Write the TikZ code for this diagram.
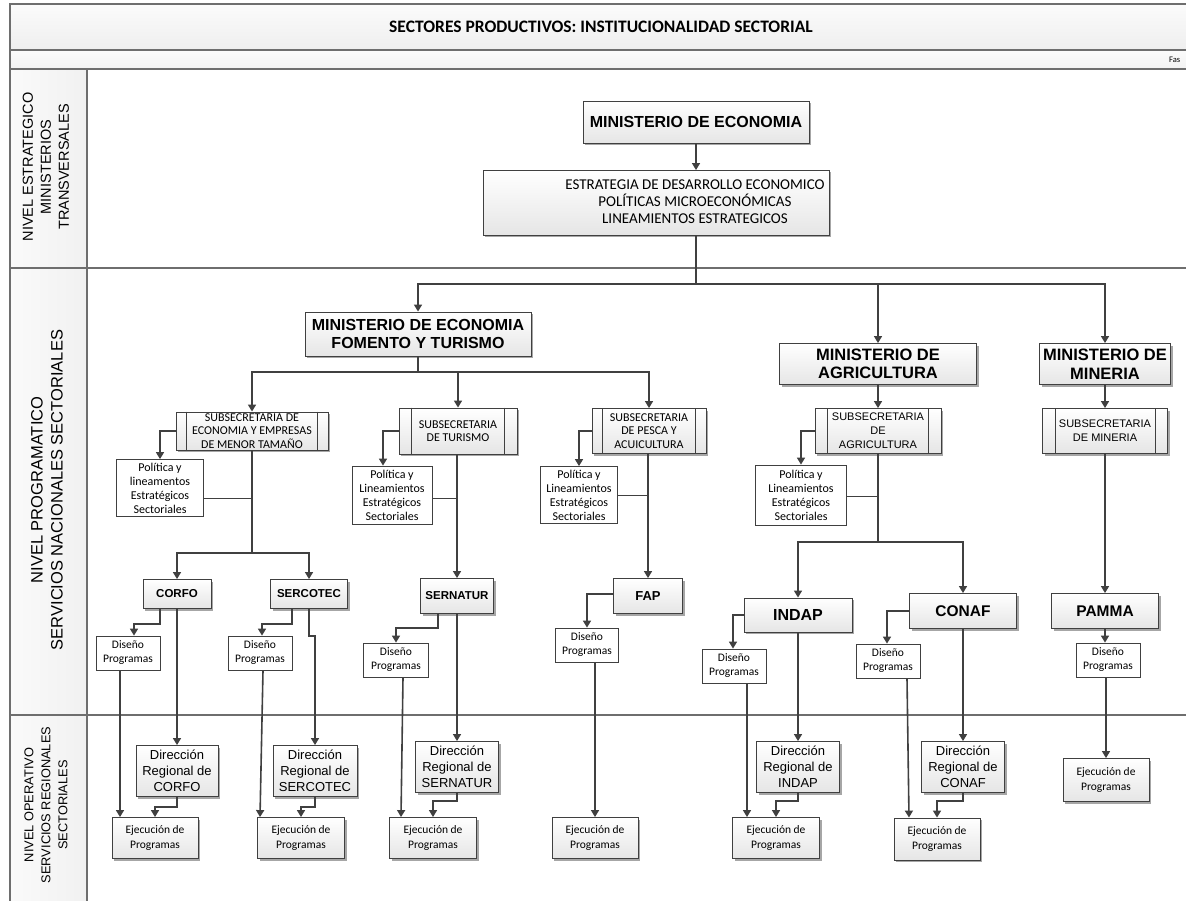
\documentclass[tikz,border=0pt]{standalone}
\usepackage{fontspec}
\setmainfont{Carlito}
\newfontfamily\arial{Liberation Sans}
\usetikzlibrary{arrows.meta,shadows,calc}
\definecolor{lc}{HTML}{404040}
\definecolor{frm}{HTML}{6E6E6E}
\newcommand\innerlines[2]{%
  \draw[lc, line width=0.8pt] ([xshift=#2]#1.north west) -- ([xshift=#2]#1.south west);
  \draw[lc, line width=0.8pt] ([xshift=-#2]#1.north east) -- ([xshift=-#2]#1.south east);}
\begin{document}
\begin{tikzpicture}[x=1pt,y=-1pt,
  box/.style={draw=lc, line width=0.9pt, top color=white, bottom color=gray!20,
    drop shadow={shadow xshift=2pt, shadow yshift=-2pt, fill=black, opacity=0.35},
    inner sep=0pt, align=center},
  wbox/.style={draw=lc, line width=0.8pt, fill=white, inner sep=0pt, align=center},
  arr/.style={draw=lc, line width=1.6pt, -{Triangle[length=7pt,width=8pt]}},
  conn/.style={draw=lc, line width=1.6pt},
  thinconn/.style={draw=lc, line width=0.9pt},
  mini/.style={font=\arial\bfseries\fontsize{16}{18}\selectfont},
  lane/.style={rotate=90, align=center, font=\arial\fontsize{14.5}{18}\selectfont},
  subf/.style={font=\fontsize{12}{13.5}\selectfont},
  subfa/.style={font=\arial\fontsize{11}{14}\selectfont},
  polf/.style={font=\fontsize{12}{14}\selectfont},
  disf/.style={font=\fontsize{11.5}{14}\selectfont},
  ejf/.style={font=\fontsize{11.5}{15}\selectfont},
  dirf/.style={font=\arial\fontsize{13}{16}\selectfont},
  agf/.style={font=\arial\bfseries\fontsize{11.5}{14}\selectfont},
  agF/.style={font=\arial\bfseries\fontsize{15.5}{18}\selectfont}]
\clip (0,0) rectangle (1186,901);
\fill[white] (0,0) rectangle (1186,901);
% frame
\shadedraw[top color=gray!3, bottom color=gray!13, draw=frm, line width=1.2pt] (10,4) rectangle (1200,50);
\node[font=\bfseries\fontsize{17.5}{20}\selectfont] (title) at (601,27) {SECTORES PRODUCTIVOS: INSTITUCIONALIDAD SECTORIAL};
\shadedraw[top color=gray!3, bottom color=gray!10, draw=frm, line width=1.2pt] (10,50) rectangle (1200,69);
\node[font=\fontsize{8.5}{9}\selectfont, anchor=west, inner sep=0pt] (fase) at (1169,59.5) {Fas};
\draw[frm, line width=1.2pt] (10,69) rectangle (1200,910);
\shadedraw[left color=gray!4, right color=gray!11, draw=frm, line width=1.2pt] (10,69) rectangle (87,910);
\draw[frm, line width=1.2pt] (10,268) -- (1200,268);
\draw[frm, line width=1.2pt] (10,715) -- (1200,715);
\node[lane] (l1) at (46,167) {NIVEL ESTRATEGICO\\MINISTERIOS\\TRANSVERSALES};
\node[lane, font=\arial\fontsize{16.5}{20}\selectfont] (l2) at (47,490) {NIVEL PROGRAMATICO\\SERVICIOS NACIONALES SECTORIALES};
\node[lane, font=\arial\fontsize{12.8}{17}\selectfont] (l3) at (46,805) {NIVEL OPERATIVO\\SERVICIOS REGIONALES\\SECTORIALES};

% strategic
\node[box, mini, minimum width=226pt, minimum height=42pt] (meb) at (696,122) {MINISTERIO DE ECONOMIA};
\node[box, minimum width=346pt, minimum height=65pt, font=\fontsize{15}{17}\selectfont] (estr) at (656,203)
  {\hspace*{78pt}\begin{tabular}{@{}c@{}}ESTRATEGIA DE DESARROLLO ECONOMICO\\POLÍTICAS MICROECONÓMICAS\\LINEAMIENTOS ESTRATEGICOS\end{tabular}};

% ministries
\node[box, mini, minimum width=226pt, minimum height=44pt] (meft) at (418,334) {MINISTERIO DE ECONOMIA\\FOMENTO Y TURISMO};
\node[box, mini, font=\arial\bfseries\fontsize{16.5}{18.5}\selectfont, minimum width=197pt, minimum height=41pt] (magr) at (878,364) {MINISTERIO DE\\AGRICULTURA};
\node[box, mini, font=\arial\bfseries\fontsize{16.5}{18.5}\selectfont, minimum width=131pt, minimum height=41pt] (mmin) at (1105,364) {MINISTERIO DE\\MINERIA};

% subsecretarias
\node[box, subf, minimum width=152pt, minimum height=38pt] (sub1) at (252,431) {SUBSECRETARIA DE\\ECONOMIA Y EMPRESAS\\DE MENOR TAMAÑO};
\innerlines{sub1}{11pt}
\node[box, subf, minimum width=118pt, minimum height=46pt] (sub2) at (458,431) {SUBSECRETARIA\\DE TURISMO};
\innerlines{sub2}{13pt}
\node[box, subf, minimum width=114pt, minimum height=45pt] (sub3) at (649,431) {SUBSECRETARIA\\DE PESCA Y\\ACUICULTURA};
\innerlines{sub3}{11pt}
\node[box, subfa, minimum width=126pt, minimum height=45pt] (suba) at (878,431) {SUBSECRETARIA\\DE\\AGRICULTURA};
\innerlines{suba}{13pt}
\node[box, subfa, minimum width=125pt, minimum height=45pt] (subm) at (1105,431) {SUBSECRETARIA\\DE MINERIA};
\innerlines{subm}{13pt}

% politica boxes
\node[wbox, polf, minimum width=87pt, minimum height=57pt] (pol1) at (160,488) {Política y\\lineamentos\\Estratégicos\\Sectoriales};
\node[wbox, polf, minimum width=80pt, minimum height=58pt] (pol2) at (392,495) {Política y\\Lineamientos\\Estratégicos\\Sectoriales};
\node[wbox, polf, minimum width=77pt, minimum height=57pt] (pol3) at (579,495) {Política y\\Lineamientos\\Estratégicos\\Sectoriales};
\node[wbox, polf, minimum width=91pt, minimum height=60pt] (pol4) at (801,495) {Política y\\Lineamientos\\Estratégicos\\Sectoriales};

% agencies
\node[box, agf, minimum width=68pt, minimum height=29pt] (corfo) at (177,594) {CORFO};
\node[box, agf, minimum width=77pt, minimum height=29pt] (serco) at (309,594) {SERCOTEC};
\node[box, agf, minimum width=73pt, minimum height=35pt] (sern) at (457,596) {SERNATUR};
\node[box, agF, font=\arial\bfseries\fontsize{13}{15}\selectfont, minimum width=69pt, minimum height=35pt] (fap) at (648,596) {FAP};
\node[box, agF, font=\arial\bfseries\fontsize{16}{18}\selectfont, minimum width=108pt, minimum height=34pt] (indap) at (798,615) {INDAP};
\node[box, agF, minimum width=107pt, minimum height=35pt] (conaf) at (963,611) {CONAF};
\node[box, agF, minimum width=107pt, minimum height=35pt] (pamma) at (1105,611) {PAMMA};

% diseno boxes
\node[wbox, disf, minimum width=64pt, minimum height=34pt] (d1) at (128,653) {Diseño\\Programas};
\node[wbox, disf, minimum width=64pt, minimum height=34pt] (d2) at (260,653) {Diseño\\Programas};
\node[wbox, disf, minimum width=65pt, minimum height=34pt] (d3) at (396,660) {Diseño\\Programas};
\node[wbox, disf, minimum width=63pt, minimum height=34pt] (d4) at (587,645) {Diseño\\Programas};
\node[wbox, disf, minimum width=64pt, minimum height=34pt] (d5) at (734,666) {Diseño\\Programas};
\node[wbox, disf, minimum width=64pt, minimum height=34pt] (d6) at (888,661) {Diseño\\Programas};
\node[wbox, disf, minimum width=64pt, minimum height=34pt] (d7) at (1108,660) {Diseño\\Programas};

% direccion regional
\node[box, dirf, minimum width=82pt, minimum height=51pt] (dr1) at (177,771) {Dirección\\Regional de\\CORFO};
\node[box, dirf, minimum width=84pt, minimum height=51pt] (dr2) at (315,771) {Dirección\\Regional de\\SERCOTEC};
\node[box, dirf, minimum width=83pt, minimum height=51pt] (dr3) at (457,767) {Dirección\\Regional de\\SERNATUR};
\node[box, dirf, minimum width=83pt, minimum height=51pt] (dr5) at (798,767) {Dirección\\Regional de\\INDAP};
\node[box, dirf, minimum width=83pt, minimum height=51pt] (dr6) at (963,767) {Dirección\\Regional de\\CONAF};

% ejecucion
\node[box, ejf, minimum width=86pt, minimum height=41pt] (e1) at (155,838) {Ejecución de\\Programas};
\node[box, ejf, minimum width=87pt, minimum height=41pt] (e2) at (301,838) {Ejecución de\\Programas};
\node[box, ejf, minimum width=87pt, minimum height=41pt] (e3) at (433,838) {Ejecución de\\Programas};
\node[box, ejf, minimum width=86pt, minimum height=41pt] (e4) at (595,838) {Ejecución de\\Programas};
\node[box, ejf, minimum width=87pt, minimum height=41pt] (e5) at (776,838) {Ejecución de\\Programas};
\node[box, ejf, minimum width=86pt, minimum height=42pt] (e6) at (937,839) {Ejecución de\\Programas};
\node[box, ejf, minimum width=86pt, minimum height=43pt] (e7) at (1106,780) {Ejecución de\\Programas};

% ---- connectors ----
\draw[arr] (meb.south) -- (meb.south |- estr.north);
\coordinate (jt) at (696,284);
\draw[conn] (meb.south |- estr.south) -- (jt);
\draw[arr] (jt) -| (meft.north);
\draw[arr] (jt) -| (magr.north);
\draw[arr] (jt) -| (mmin.north);

\coordinate (j2) at (418,372);
\draw[conn] (meft.south) -- (j2);
\draw[arr] (j2) -| (sub1.north);
\draw[arr] (j2) -| (sub2.north);
\draw[arr] (j2) -| (sub3.north);
\draw[arr] (magr.south) -- (suba.north);
\draw[arr] (mmin.south) -- (subm.north);

\draw[arr] (sub1.west) -| (pol1.north);
\draw[arr] (sub2.west) -| ([xshift=-9pt]pol2.north);
\draw[arr] (sub3.west) -| (pol3.north);
\draw[arr] (suba.west) -| (pol4.north);

\coordinate (j3) at (252,553);
\draw[conn] (sub1.south) -- (j3);
\draw[thinconn] ([yshift=-10pt]pol1.east) -- ([yshift=-10pt]pol1.east -| sub1.south);
\draw[arr] (j3) -| (corfo.north);
\draw[arr] (j3) -| (serco.north);

\draw[thinconn] ([yshift=-3pt]pol2.east) -- ([yshift=-3pt]pol2.east -| sern.north);
\draw[arr] (sub2.south -| sern.north) -- (sern.north);
\draw[thinconn] (pol3.east) -- (pol3.east -| fap.north);
\draw[arr] (sub3.south -| fap.north) -- (fap.north);

\coordinate (j4) at (878,542);
\draw[conn] (suba.south) -- (j4);
\draw[thinconn] ([yshift=-1pt]pol4.east) -- ([yshift=-1pt]pol4.east -| suba.south);
\draw[arr] (j4) -| (indap.north);
\draw[arr] (j4) -| (conaf.north);
\draw[arr] (subm.south) -- (pamma.north);

% CORFO
\draw[arr] ([xshift=-17pt]corfo.south) -- ++(0,15) -| ([xshift=6pt]d1.north);
\draw[arr] (corfo.south) -- (dr1.north);
\draw[arr] ([xshift=-8pt]d1.south) -- ([xshift=-8pt]d1.south |- e1.north);
\draw[arr] (dr1.south) -- ++(0,10) -| (e1.north);
% SERCOTEC
\draw[arr] ([xshift=-17pt]serco.south) -- ++(0,15) -| ([xshift=2pt]d2.north);
\draw[arr] (serco.south) -- ++(0,27) -| (dr2.north);
\draw[arr] ([xshift=3pt]d2.south) -- ([xshift=-41pt]e2.north);
\draw[arr] (dr2.south) -- ++(0,10) -| (e2.north);
% SERNATUR
\draw[arr] ([xshift=-19pt]sern.south) -- ++(0,14) -| (d3.north);
\draw[arr] (sern.south) -- (dr3.north);
\draw[arr] ([xshift=7pt]d3.south) -- ([xshift=-32pt]e3.north);
\draw[arr] (dr3.south) -- ++(0,8) -| (e3.north);
% FAP
\draw[arr] ([yshift=2pt]fap.west) -| (d4.north);
\draw[arr] ([xshift=8pt]d4.south) -- ([xshift=8pt]d4.south |- e4.north);
% INDAP
\draw[arr] (indap.west) -| ([xshift=-1pt]d5.north);
\draw[arr] (indap.south) -- (dr5.north);
\draw[arr] ([xshift=13pt]d5.south) -- ([xshift=-29pt]e5.north);
\draw[arr] (dr5.south) -- ++(0,8) -| (e5.north);
% CONAF
\draw[arr] (conaf.west) -| ([xshift=-1pt]d6.north);
\draw[arr] (conaf.south) -- (dr6.north);
\draw[arr] ([xshift=19pt]d6.south) -- ([xshift=-28pt]e6.north);
\draw[arr] (dr6.south) -- ++(0,8) -| (e6.north);
% PAMMA
\draw[arr] (pamma.south) -- (pamma.south |- d7.north);
\draw[arr] ([xshift=-2pt]d7.south) -- (e7.north);
\end{tikzpicture}
\end{document}
